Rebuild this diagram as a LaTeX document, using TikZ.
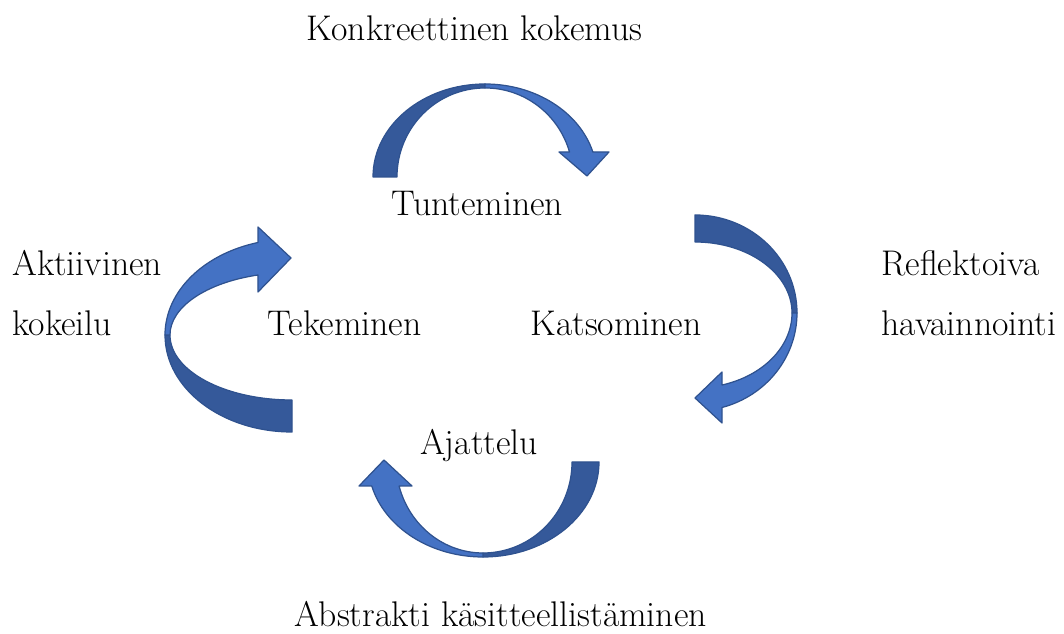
\documentclass[tikz,border=0pt]{standalone}
\usepackage{tikz}
\usetikzlibrary{positioning}
\definecolor{bandDark}{RGB}{53,89,154}
\definecolor{bandLight}{RGB}{68,114,196}
\definecolor{bandEdge}{RGB}{47,82,143}

\begin{document}
\begin{tikzpicture}[
    x=0.02cm, y=0.02cm,
    darkpart/.style={fill=bandDark, draw=bandEdge, line width=0.7pt, line join=round},
    lightpart/.style={fill=bandLight, draw=bandEdge, line width=0.7pt, line join=round},
    lbl/.style={inner sep=0pt, font=\fontsize{20.3}{24}\selectfont}
]
    \useasboundingbox (0,0) rectangle (1064,634);

    \path[darkpart] (373,457) arc[start angle=180, end angle=90, x radius=112, y radius=93]
        -- (485,546) arc[start angle=90, end angle=180, x radius=88, y radius=89] -- cycle;
    \path[lightpart] (485,550) arc[start angle=90, end angle=15.6, x radius=112, y radius=93]
        -- (609,482) -- (587,458) -- (559,482) -- (569.5,482)
        arc[start angle=16.3, end angle=90, x radius=88, y radius=89] -- cycle;

    \path[darkpart] (695,419) arc[start angle=90, end angle=0, x radius=102, y radius=98]
        -- (792,321) arc[start angle=0, end angle=90, x radius=97, y radius=71] -- cycle;
    \path[lightpart] (797,321) arc[start angle=0, end angle=-74.6, x radius=102, y radius=98]
        -- (722,211) -- (695,236) -- (722,262) -- (722.06,249)
        arc[start angle=-73.8, end angle=0, x radius=97, y radius=75] -- cycle;

    \path[darkpart] (483,77) arc[start angle=-90, end angle=0, x radius=116, y radius=95]
        -- (572,172) arc[start angle=0, end angle=-90, x radius=89, y radius=91] -- cycle;
    \path[lightpart] (483,77) arc[start angle=-90, end angle=-165.4, x radius=115, y radius=95]
        -- (359,148) -- (384,174) -- (412,148) -- (399.08,148)
        arc[start angle=195.3, end angle=270, x radius=87, y radius=91] -- cycle;

    \path[darkpart] (292,202) arc[start angle=270, end angle=180, x radius=127, y radius=97]
        -- (170,299) arc[start angle=180, end angle=270, x radius=122, y radius=65] -- cycle;
    \path[lightpart] (165,299) arc[start angle=180, end angle=105.5, x radius=127, y radius=96]
        -- (258,407) -- (291,376) -- (258,342) -- (257.96,359)
        arc[start angle=106.2, end angle=180, x radius=122, y radius=62.5] -- cycle;

    \node[lbl, anchor=base] (konkreettinen) at (474.5,593) {Konkreettinen kokemus};
    \node[lbl, anchor=base] (tunteminen) at (477.5,418) {Tunteminen};
    \node[lbl, anchor=base west] (aktiivinen) at (12,358) {Aktiivinen};
    \node[lbl, anchor=base west] (kokeilu) at (12,298) {kokeilu};
    \node[lbl, anchor=base] (tekeminen) at (344.5,298) {Tekeminen};
    \node[lbl, anchor=base] (katsominen) at (616,298) {Katsominen};
    \node[lbl, anchor=base west] (reflektoiva) at (881,358) {Reflektoiva};
    \node[lbl, anchor=base west] (havainnointi) at (881,298) {havainnointi};
    \node[lbl, anchor=base] (ajattelu) at (479,179) {Ajattelu};
    \node[lbl, anchor=base] (abstrakti) at (500.5,7) {Abstrakti käsitteellistäminen};
\end{tikzpicture}
\end{document}
